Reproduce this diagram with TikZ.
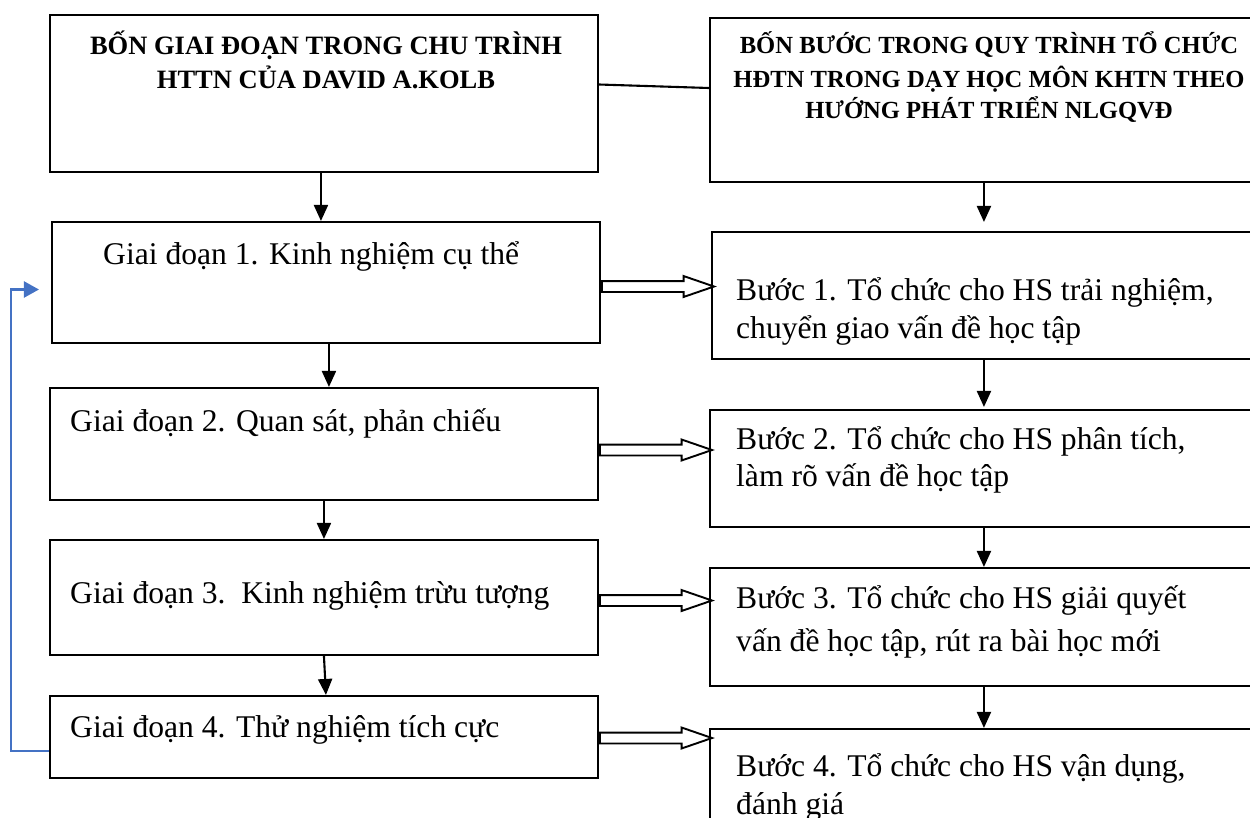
\documentclass[tikz,border=0pt]{standalone}
\usepackage{fontspec}
\setmainfont{Liberation Serif}
\usetikzlibrary{arrows.meta,calc,fit,shapes.arrows}
\definecolor{fbblue}{RGB}{68,114,196}
\begin{document}
\begin{tikzpicture}[x=1pt,y=-1pt,
 box/.style={draw, line width=2.1pt, inner sep=0pt},
 body/.style={anchor=base west, inner sep=0pt, font=\fontsize{31.6}{38}\selectfont},
 headl/.style={anchor=base, inner sep=0pt, font=\fontsize{26.5}{34}\selectfont\bfseries},
 headr/.style={anchor=base, inner sep=0pt, font=\fontsize{24.6}{31}\selectfont\bfseries},
 arr/.style={line width=2.1pt, -{Triangle[length=16pt,width=14pt]}},
 harrow/.style={single arrow, draw, line width=1.9pt, fill=white, inner xsep=0pt, inner ysep=4.5pt, minimum height=110pt, single arrow head extend=5pt, single arrow tip angle=38, anchor=tail},
 fb/.style={draw=fbblue, line width=2.4pt, -{Triangle[length=15pt,width=16pt]}}]
\useasboundingbox (0,0) rectangle (1250,817);
\clip (0,0) rectangle (1250,817);
% left column
\node[box, fit={(50,15) (598,172)}] (HL) {};
\node[box, fit={(52,222) (600,343)}] (L1) {};
\node[box, fit={(50,388) (598,500)}] (L2) {};
\node[box, fit={(50,540) (598,655)}] (L3) {};
\node[box, fit={(50,696) (598,778)}] (L4) {};
% right column
\node[box, fit={(710,18) (1265,182)}] (HR) {};
\node[box, fit={(712,232) (1265,359)}] (R1) {};
\node[box, fit={(710,410) (1265,527)}] (R2) {};
\node[box, fit={(710,568) (1265,686)}] (R3) {};
\node[box, fit={(710,729) (1265,840)}] (R4) {};
% texts
\node[headl] (hl1) at (326,54) {BỐN GIAI ĐOẠN TRONG CHU TRÌNH};
\node[headl] (hl2) at (326,88) {HTTN CỦA DAVID A.KOLB};
\node[headr] (hr1) at (989,53) {BỐN BƯỚC TRONG QUY TRÌNH TỔ CHỨC};
\node[headr] (hr2) at (989,87) {HĐTN TRONG DẠY HỌC MÔN KHTN THEO};
\node[headr] (hr3) at (989,118) {HƯỚNG PHÁT TRIỂN NLGQVĐ};
\node[body] (l1t) at (103,264) {Giai đoạn 1. Kinh nghiệm cụ thể};
\node[body] (l2t) at (70,431) {Giai đoạn 2. Quan sát, phản chiếu};
\node[body] (l3t) at (70,603) {Giai đoạn 3.\ \ Kinh nghiệm trừu tượng};
\node[body] (l4t) at (70,737) {Giai đoạn 4. Thử nghiệm tích cực};
\node[body] (r1a) at (736,300) {Bước 1. Tổ chức cho HS trải nghiệm,};
\node[body] (r1b) at (736,338) {chuyển giao vấn đề học tập};
\node[body] (r2a) at (736,449) {Bước 2. Tổ chức cho HS phân tích,};
\node[body] (r2b) at (736,486) {làm rõ vấn đề học tập};
\node[body] (r3a) at (736,608) {Bước 3. Tổ chức cho HS giải quyết};
\node[body] (r3b) at (736,651) {vấn đề học tập, rút ra bài học mới};
\node[body] (r4a) at (736,776) {Bước 4. Tổ chức cho HS vận dụng,};
\node[body] (r4b) at (736,814) {đánh giá};
% connector between headers
\draw[line width=2.1pt] ($(HL.east)+(0,-9)$) -- ($(HR.west)+(0,-12)$);
% vertical arrows left
\draw[arr] ($(HL.south west)+(272,0)$) -- ($(L1.north west)+(270,0)$);
\draw[arr] ($(L1.south west)+(278,0)$) -- ($(L2.north west)+(280,0)$);
\draw[arr] ($(L2.south west)+(275,0)$) -- ($(L3.north west)+(275,0)$);
\draw[arr] ($(L3.south west)+(275,0)$) -- ($(L4.north west)+(277,0)$);
% vertical arrows right
\draw[arr] ($(HR.south west)+(275,0)$) -- ($(R1.north west)+(273,-9)$);
\draw[arr] ($(R1.south west)+(273,0)$) -- ($(R2.north west)+(275,-2)$);
\draw[arr] ($(R2.south west)+(275,0)$) -- ($(R3.north west)+(275,0)$);
\draw[arr] ($(R3.south west)+(275,0)$) -- ($(R4.north west)+(275,0)$);
% hollow arrows
\node[harrow, minimum height=112pt] (a1) at ($(L1.east)+(0,4)$) {};
\node[harrow, minimum height=112pt] (a2) at ($(L2.east)+(0,6)$) {};
\node[harrow, minimum height=112pt] (a3) at ($(L3.east)+(0,3)$) {};
\node[harrow, minimum height=112pt] (a4) at ($(L4.east)+(0,1)$) {};
% feedback
\coordinate (fbend) at ($(L1.west)+(-12,7)$);
\draw[fb] ($(L4.west)+(0,14)$) -- ++(-38,0) |- (fbend);
\end{tikzpicture}
\end{document}
